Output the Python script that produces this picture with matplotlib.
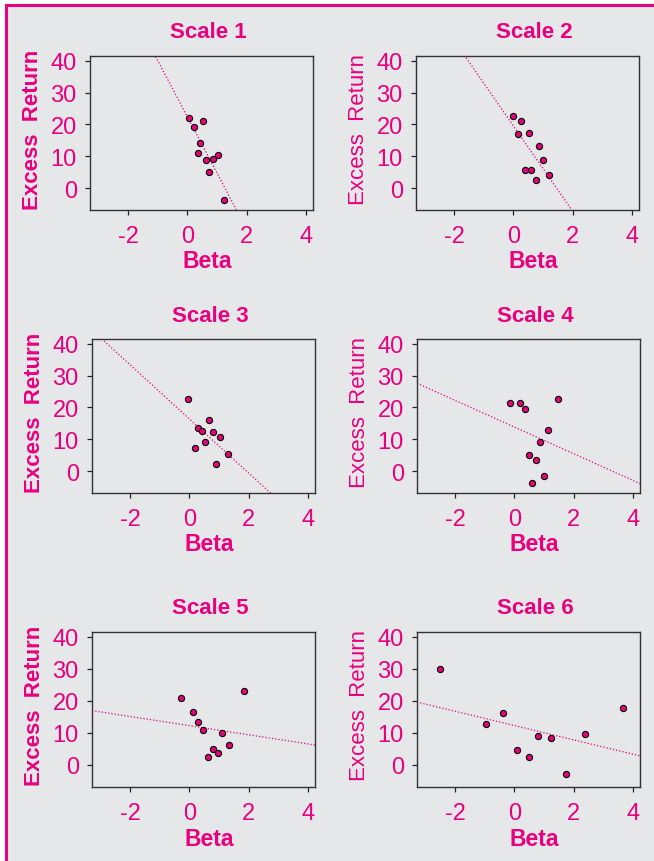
import matplotlib
matplotlib.use("Agg")
import matplotlib.pyplot as plt
from matplotlib.patches import Rectangle
from matplotlib.lines import Line2D
import numpy as np

# values
beta1 = [0.06, 0.21, 0.52, 0.44, 0.34, 0.63, 0.87, 1.03, 0.74, 1.22]
ret1 = [21.9, 19.1, 21.0, 14.1, 10.9, 8.7, 9.1, 10.4, 5.2, -3.9]
beta2 = [-0.03, 0.27, 0.16, 0.51, 0.87, 1.00, 0.39, 0.61, 1.21, 0.76]
ret2 = [22.8, 21.0, 16.9, 17.2, 13.1, 8.9, 5.7, 5.7, 4.2, 2.5]
beta3 = [-0.06, 0.30, 0.43, 0.67, 0.79, 1.05, 0.54, 0.18, 1.30, 0.91]
ret3 = [22.8, 13.4, 12.5, 16.1, 12.3, 10.7, 9.0, 7.3, 5.5, 2.1]
beta4 = [-0.15, 0.18, 0.35, 1.48, 1.15, 0.86, 0.48, 0.73, 0.99, 0.61]
ret4 = [21.4, 21.3, 19.5, 22.8, 12.8, 9.2, 5.0, 3.6, -1.7, -3.7]
beta5 = [-0.27, 0.11, 0.29, 0.45, 1.10, 1.85, 1.33, 0.78, 0.95, 0.63]
ret5 = [20.9, 16.5, 13.4, 10.9, 9.9, 23.2, 6.3, 5.0, 3.7, 2.5]
beta6 = [-2.52, -0.97, -0.38, 0.10, 0.50, 0.81, 1.25, 1.76, 2.40, 3.66]
ret6 = [29.8, 12.8, 16.1, 4.7, 2.5, 9.0, 8.5, -2.9, 9.8, 17.8]

titles = ["Scale 1", "Scale 2", "Scale 3", "Scale 4", "Scale 5", "Scale 6"]
xticks = [-2, 0, 2, 4]
yticks = [0, 10, 20, 30, 40]

pink = "#e8007f"
gray = "#e6e7e8"
font = ["Liberation Sans Narrow", "Liberation Sans", "DejaVu Sans"]

W, H = 654, 862
fig = plt.figure(figsize=(W / 100, H / 100), dpi=100, facecolor="white")

# grey panel with pink top and left rule
fig.patches.append(Rectangle((6 / W, 0), 1, 1 - 6 / H, transform=fig.transFigure,
                             facecolor=gray, edgecolor="none", zorder=-10))
fig.lines.append(Line2D([6 / W, 6 / W], [0, 1 - 6 / H], transform=fig.transFigure,
                        color=pink, lw=2.2, zorder=-5))
fig.lines.append(Line2D([6 / W, 1], [1 - 6 / H, 1 - 6 / H], transform=fig.transFigure,
                        color=pink, lw=2.2, zorder=-5))

# axes boxes in pixels: left, top, right, bottom
boxes = [(90, 57, 313, 211), (416, 57, 639, 211),
         (92, 340, 315, 494), (417, 340, 640, 494),
         (92, 633, 315, 788), (417, 633, 640, 788)]

data = [(beta1, ret1), (beta2, ret2), (beta3, ret3),
        (beta4, ret4), (beta5, ret5), (beta6, ret6)]

xlim = (-3.3, 4.25)
ylim = (-6.9, 41.5)

for i, ((x, y), (l, t, r, b)) in enumerate(zip(data, boxes)):
    ax = fig.add_axes([l / W, 1 - b / H, (r - l) / W, (b - t) / H])
    ax.set_facecolor(gray)
    ax.set_xlim(*xlim)
    ax.set_ylim(*ylim)

    slope, icpt = np.polyfit(x, y, 1)
    xx = np.array(xlim)
    ax.plot(xx, icpt + slope * xx, color=pink, lw=0.9, ls=(0, (1, 1.6)), zorder=2)
    ax.scatter(x, y, s=20, color=pink, edgecolor="black", linewidth=0.8, zorder=3)

    ax.set_xticks(xticks)
    ax.set_yticks(yticks)
    ax.set_xticklabels([str(v) for v in xticks], family=font, fontsize=17, color=pink)
    ax.set_yticklabels([str(v) for v in yticks], family=font, fontsize=17, color=pink)
    ax.tick_params(direction="out", length=3.5, width=0.9, color="#222222")
    ax.tick_params(axis="x", pad=7)
    ax.tick_params(axis="y", pad=6)
    for sp in ax.spines.values():
        sp.set_color("#333333")
        sp.set_linewidth(1.0)

    h = b - t
    ax.text(0.53, 1 + 24 / h, titles[i], transform=ax.transAxes, ha="center", va="center",
            family=font, fontsize=16, fontweight="bold", color=pink)
    ax.set_xlabel("Beta", family=font, fontsize=16.5, fontweight="bold", color=pink, va="center")
    ax.xaxis.set_label_coords(0.525, -0.33)
    wt = "bold" if i % 2 == 0 else "normal"
    ax.set_ylabel("Excess  Return", family=font, fontsize=16, fontweight=wt, color=pink,
                  va="center")
    ax.yaxis.set_label_coords(-0.26, 0.53)

fig.savefig("out.png", dpi=100, facecolor="white")
